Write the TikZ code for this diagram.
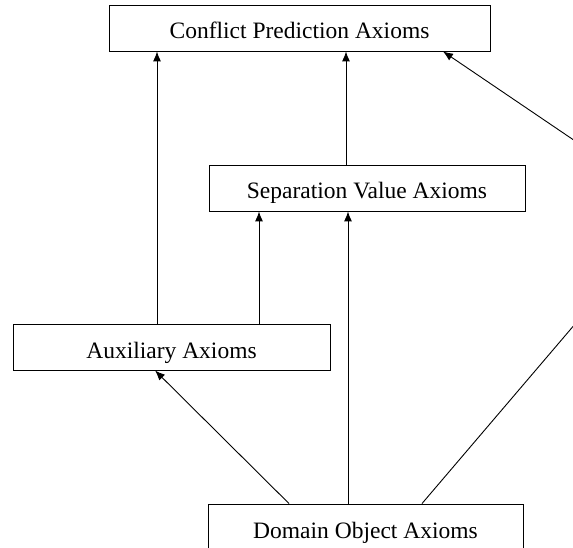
\documentclass[tikz,border=0pt]{standalone}
\usepackage{fontspec}
\setmainfont{Liberation Serif}
\usetikzlibrary{arrows.meta}

\tikzset{
    axbox/.style={draw, line width=0.9pt, minimum height=46pt, inner sep=0pt,
        text height=27pt, text depth=5pt,
        font=\fontsize{23.5}{28}\selectfont},
}

\begin{document}
\begin{tikzpicture}[x=1pt, y=-1pt, line width=0.9pt, >={Latex[length=10pt,width=8pt]}]
    % Frame of the picture
    \useasboundingbox (0,0) rectangle (573,548);
    \clip (0,0) rectangle (573,548);

    % Axiom groups
    \node[axbox, minimum width=381pt] (conf) at (299.5,28) {Conflict Prediction Axioms};
    \node[axbox, minimum width=316pt] (sep) at (367,188) {Separation Value Axioms};
    \node[axbox, minimum width=317pt] (aux) at (171.5,347) {Auxiliary Axioms};
    \node[axbox, minimum width=315pt] (dom) at (365.5,527) {Domain Object Axioms};
    \coordinate (bend) at (674,208);

    % Dependencies
    \draw[->] ([xshift=-14.5pt]aux.north) -- ([xshift=-14.5pt]aux.north |- conf.south);
    \draw[->] ([xshift=-21pt]sep.north) -- ([xshift=-21pt]sep.north |- conf.south);
    \draw[->] ([xshift=87.5pt]aux.north) -- ([xshift=87.5pt]aux.north |- sep.south);
    \draw[->] ([xshift=-17.5pt]dom.north) -- ([xshift=-17.5pt]dom.north |- sep.south);
    \draw[->] ([xshift=-76.5pt]dom.north) -- ([xshift=-16.5pt]aux.south);
    \draw[->] ([xshift=56.5pt]dom.north) -- (bend) -- ([xshift=143.5pt]conf.south);
\end{tikzpicture}
\end{document}
